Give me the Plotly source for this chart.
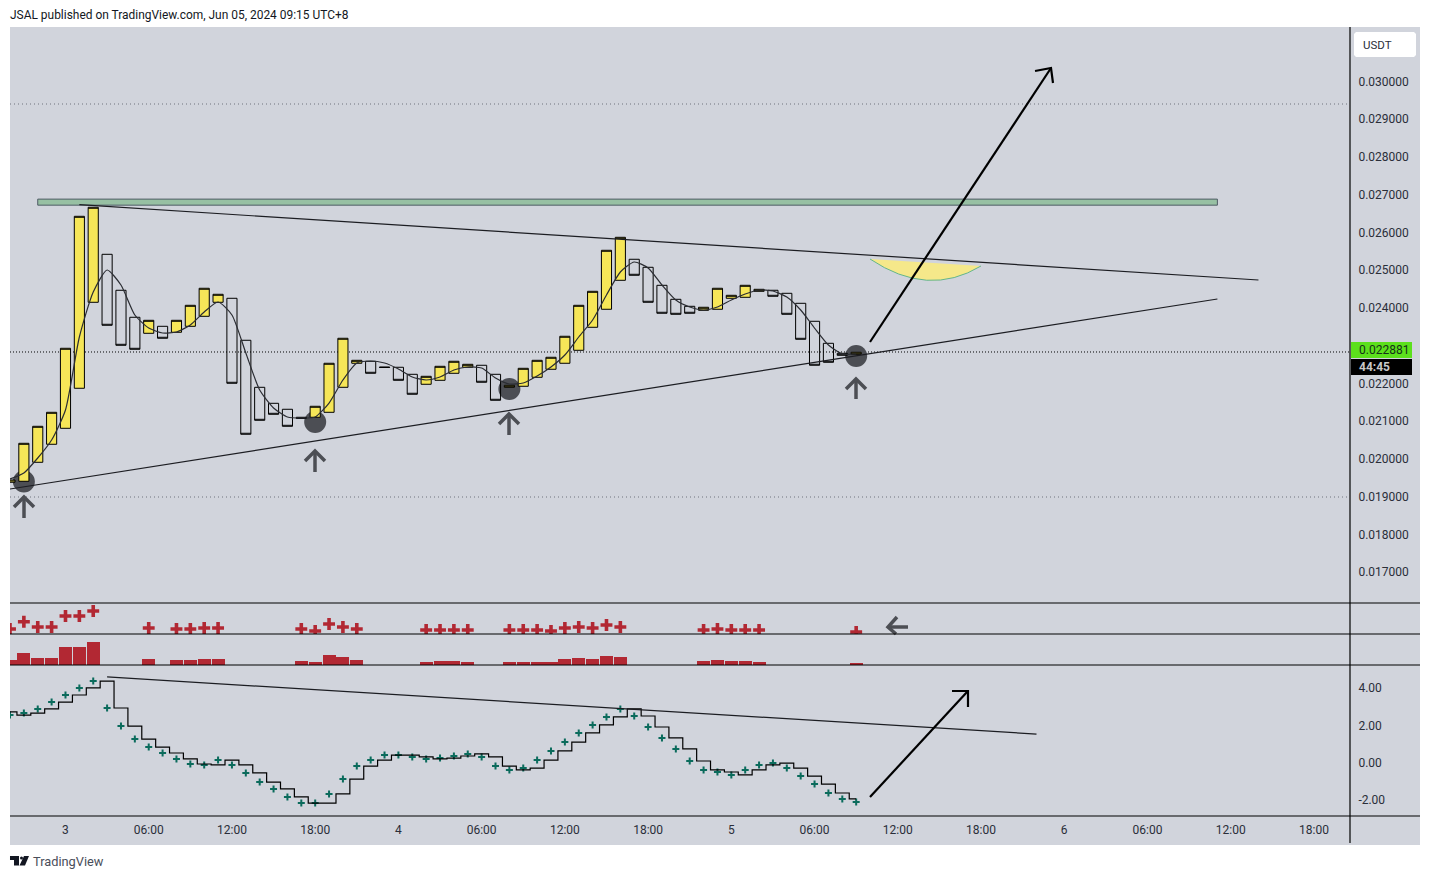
from datetime import datetime, timedelta
import plotly.graph_objects as go

W, H = 1430, 879
START = datetime(2024, 6, 3)

# ---- data ----
first_hour = -4  # hourly bars, hours relative to Jun 3 00:00
opens = [0.019382,0.019408,0.019911,0.020388,0.020811,0.021871,0.024148,0.025419,0.024466,0.023751,0.023327,0.023512,
         0.023354,0.023512,0.023777,0.024148,0.024254,0.023142,0.021897,0.021473,0.021315,0.021103,0.021103,0.021235,
         0.021897,0.022533,0.022586,0.022435,0.022427,0.022241,0.021977,0.022082,0.022268,0.022427,0.022480,0.022241,
         0.021897,0.021924,0.022162,0.022374,0.022533,0.022877,0.023486,0.023963,0.024730,0.025287,0.025075,0.024598,
         0.024227,0.024042,0.023936,0.023963,0.024254,0.024280,0.024439,0.024466,0.024386,0.024121,0.023645,0.023062,
         0.022797,0.022771]
closes = [0.019443,0.020414,0.020864,0.021235,0.022930,0.026425,0.026664,0.023539,0.023009,0.022903,0.023671,0.023195,
          0.023671,0.024068,0.024519,0.024360,0.022003,0.020653,0.021023,0.021182,0.020864,0.021076,0.021394,0.022533,
          0.023195,0.022612,0.022268,0.022422,0.022082,0.021712,0.022188,0.022453,0.022586,0.022506,0.022030,0.021553,
          0.021950,0.022400,0.022612,0.022692,0.023248,0.024068,0.024439,0.025525,0.025869,0.024863,0.024148,0.023857,
          0.023830,0.023857,0.024016,0.024519,0.024333,0.024598,0.024492,0.024307,0.023830,0.023168,0.022480,0.022559,
          0.022744,0.022824]
ma_values = [0.019469,0.019628,0.020025,0.020502,0.021296,0.023229,0.024421,0.025003,0.024606,0.023812,0.023467,0.023335,
             0.023361,0.023547,0.023891,0.024156,0.023812,0.022805,0.021826,0.021349,0.021111,0.021084,0.021111,0.021481,
             0.022090,0.022541,0.022594,0.022541,0.022382,0.022170,0.022090,0.022170,0.022355,0.022435,0.022408,0.022143,
             0.021984,0.022011,0.022196,0.022435,0.022752,0.023229,0.023679,0.024341,0.024950,0.025215,0.025056,0.024606,
             0.024209,0.024023,0.023944,0.024023,0.024209,0.024368,0.024474,0.024447,0.024288,0.023944,0.023467,0.023017,
             0.022779,0.022779]

signal_hours = [-4,-3,-2,-1,0,1,2,6,8,9,10,11,17,18,19,20,21,26,27,28,29,32,33,34,35,36,37,38,39,40,46,47,48,49,50,57]
signal_marks = [5,12.3,7,7,18,18,23,6,5,5,6,6,5,3,10,7,5,4,4,4,4,4,4,4,3,6,7,6,9,7,4,5,4,4,4,2]
signal_bars = [5.3,12.3,7.3,7.3,18.3,18.3,23.3,6.3,5.3,5.3,6.3,6.3,4.3,3.3,10.3,8.3,5.3,3.3,4.3,4.3,3.3,3.3,3.3,3.3,3.3,
               6.3,7.3,6.3,9.3,8.3,4.3,5.3,4.3,4.3,3.3,1.3]

osc_first_hour = -5
osc_values = [2.72,2.55,2.66,2.88,3.25,3.63,4.01,4.38,2.93,1.96,1.26,0.83,0.51,0.19,-0.08,-0.13,0.13,-0.13,-0.56,-1.05,
              -1.42,-1.85,-2.18,-2.18,-1.69,-0.89,-0.19,0.13,0.40,0.40,0.30,0.19,0.24,0.35,0.46,0.30,-0.19,-0.40,-0.30,
              0.13,0.62,1.10,1.59,2.02,2.45,2.88,2.50,1.91,1.32,0.73,0.08,-0.40,-0.51,-0.67,-0.40,-0.13,-0.03,-0.30,
              -0.73,-1.16,-1.64,-1.96,-2.12]

price_ticks = [0.030,0.029,0.028,0.027,0.026,0.025,0.024,0.022,0.021,0.020,0.019,0.018,0.017]
osc_ticks = [4,2,0,-2]
time_tick_hours = [0,6,12,18,24,30,36,42,48,54,60,66,72,78,84,90]
time_tick_labels = ["3","06:00","12:00","18:00","4","06:00","12:00","18:00","5","06:00","12:00","18:00","6","06:00","12:00","18:00"]

BG = "#d1d4dc"; YEL = "#f6e658"; RED = "#b22833"; GRN = "#0b6b5c"; DARK = "#4c4e54"; TXT = "#2a2e39"
FONT = "Roboto"

def T(h):
    return START + timedelta(hours=h)
def px(x):
    return x / W
def py(y):
    return 1 - y / H
def path(*pts, close=False):
    return "M" + " L".join(f"{px(a):.5f},{py(b):.5f}" for a, b in pts) + (" Z" if close else "")

bar_times = [T(first_hour + i) for i in range(len(opens))]
fig = go.Figure()

fig.add_trace(go.Candlestick(
    x=bar_times, open=opens, close=closes,
    high=[max(a, b) for a, b in zip(opens, closes)], low=[min(a, b) for a, b in zip(opens, closes)],
    increasing=dict(fillcolor=YEL, line=dict(color="#000000", width=1)),
    decreasing=dict(fillcolor="rgba(0,0,0,0)", line=dict(color="#000000", width=1)),
    whiskerwidth=0, xaxis="x", yaxis="y", showlegend=False, hoverinfo="skip"))
fig.add_trace(go.Scatter(x=bar_times, y=ma_values, mode="lines", xaxis="x", yaxis="y",
                         line=dict(color="#2b2d33", width=1.2, shape="spline", smoothing=0.6), showlegend=False, hoverinfo="skip"))
sig_times = [T(h) for h in signal_hours]
fig.add_trace(go.Scatter(x=sig_times, y=signal_marks, mode="markers", xaxis="x", yaxis="y2",
                         marker=dict(symbol="cross-thin", size=8.5, line=dict(color=RED, width=3.6)), showlegend=False, hoverinfo="skip"))
fig.add_trace(go.Bar(x=sig_times, y=signal_bars, width=3600000 * 0.94, marker=dict(color=RED, line=dict(width=0)),
                     xaxis="x", yaxis="y3", showlegend=False, hoverinfo="skip"))
osc_x = [T(osc_first_hour + i) for i in range(len(osc_values))]
fig.add_trace(go.Scatter(x=osc_x, y=osc_values, mode="markers", xaxis="x", yaxis="y4",
                         marker=dict(symbol="cross-thin", size=5, line=dict(color=GRN, width=2)), showlegend=False, hoverinfo="skip"))
# the stepped signal line lags the green marks by one bar and stops at the last bar
fig.add_trace(go.Scatter(x=osc_x[1:], y=osc_values[:-1], mode="lines",
                         xaxis="x", yaxis="y4", line=dict(color="#000000", width=1.2, shape="hvh"), showlegend=False, hoverinfo="skip"))

shapes = []
# circles under the candles
for h, p in [(-3, 0.01940), (18, 0.02098), (32, 0.02185), (57, 0.022726)]:
    shapes.append(dict(type="circle", xref="x", yref="y", xsizemode="pixel", ysizemode="pixel", xanchor=T(h), yanchor=p,
                       x0=-11, x1=11, y0=-11, y1=11, fillcolor=DARK, line=dict(width=0), layer="below"))
# dotted level lines
for p, c, d in [(0.029399, "#6f727c", "1px,3px"), (0.018992, "#6f727c", "1px,3px"), (0.022832, "#000000", "1px,2px")]:
    shapes.append(dict(type="line", xref="paper", yref="y", x0=px(10), x1=px(1350), y0=p, y1=p, line=dict(color=c, width=1, dash=d), layer="below"))
# green zone
shapes.append(dict(type="rect", xref="x", yref="y", x0=T(-2), x1=T(83.04), y0=0.02672, y1=0.02688,
                   fillcolor="#97c0a3", line=dict(color="#4f5b66", width=1)))
# trend lines
for a, b, c, d, ya in [(1, 0.026732, 86, 0.024738, "y"), (-4, 0.019204, 83.04, 0.024235, "y"), (3, 4.6, 70, 1.53, "y4")]:
    shapes.append(dict(type="line", xref="x", yref=ya, x0=T(a), x1=T(c), y0=b, y1=d, line=dict(color="#1c1d22", width=1.2)))
# yellow arc
arc = f"M{px(870):.5f},{py(259):.5f} Q{px(928):.5f},{py(298):.5f} {px(981):.5f},{py(266):.5f}"
shapes.append(dict(type="path", xref="paper", yref="paper", path=arc + " Z", fillcolor="#f5e88a", line=dict(width=0)))
shapes.append(dict(type="path", xref="paper", yref="paper", path=arc, line=dict(color="#62b58c", width=1)))
# black arrows
for pts in [[(870, 342), (1051, 68)], [(1035, 71), (1051, 68), (1053, 83)], [(870, 797), (967, 692)], [(952, 691), (968, 691), (968, 707)]]:
    shapes.append(dict(type="path", xref="paper", yref="paper", path=path(*pts), line=dict(color="#000000", width=2.2)))
# dark guide arrows
for x, tip, tail in [(24, 497, 518), (315, 451, 472), (509, 414, 435), (856, 379, 399)]:
    shapes.append(dict(type="path", xref="paper", yref="paper", path=path((x, tail), (x, tip)), line=dict(color=DARK, width=3.5)))
    shapes.append(dict(type="path", xref="paper", yref="paper", path=path((x - 10, tip + 10), (x, tip), (x + 10, tip + 10)), line=dict(color=DARK, width=3.5)))
shapes.append(dict(type="path", xref="paper", yref="paper", path=path((908, 627), (888, 627)), line=dict(color=DARK, width=3.5)))
shapes.append(dict(type="path", xref="paper", yref="paper", path=path((897, 617), (888, 627), (896, 634)), line=dict(color=DARK, width=3.5)))
# pane frame
for y in [603, 634, 665, 816]:
    shapes.append(dict(type="line", xref="paper", yref="paper", x0=px(10), x1=px(1420), y0=py(y), y1=py(y), line=dict(color="#000000", width=1.2)))
shapes.append(dict(type="line", xref="paper", yref="paper", x0=px(1350), x1=px(1350), y0=py(27), y1=py(843), line=dict(color="#000000", width=1.2)))
# chart background
shapes.insert(0, dict(type="rect", xref="paper", yref="paper", x0=px(10), x1=px(1420), y0=py(845), y1=py(27), fillcolor=BG, line=dict(width=0), layer="below"))
# USDT button, price and countdown tags
shapes.append(dict(type="path", xref="paper", yref="paper", fillcolor="#ffffff", line=dict(width=0),
                   path=path((1356, 32), (1414, 32), (1416, 34), (1416, 55), (1414, 57), (1356, 57), (1354, 55), (1354, 34), close=True)))
shapes.append(dict(type="rect", xref="paper", yref="paper", x0=px(1351), x1=px(1412), y0=py(358), y1=py(342), fillcolor="#5ce01c", line=dict(width=0)))
shapes.append(dict(type="rect", xref="paper", yref="paper", x0=px(1351), x1=px(1412), y0=py(375), y1=py(359), fillcolor="#000000", line=dict(width=0)))
# logo
shapes.append(dict(type="path", xref="paper", yref="paper", fillcolor="#131722", line=dict(width=0),
                   path=path((10, 856), (19, 856), (19, 865.5), (14, 865.5), (14, 860), (10, 860), close=True)))
shapes.append(dict(type="path", xref="paper", yref="paper", fillcolor="#131722", line=dict(width=0),
                   path=path((24, 856), (29, 856), (25, 865.5), (19.5, 865.5), close=True)))
shapes.append(dict(type="circle", xref="paper", yref="paper", x0=px(20), x1=px(23), y0=py(859.5), y1=py(856.5), fillcolor="#131722", line=dict(width=0)))

def note(x, y, text, size=12, color=TXT, weight=None, family=FONT):
    return dict(xref="paper", yref="paper", x=px(x), y=py(y), text=text, showarrow=False, xanchor="left", yanchor="middle",
                font=dict(family=family, size=size, color=color, weight=weight))

annotations = [
    note(8, 15, "JSAL published on TradingView.com, Jun 05, 2024 09:15 UTC+8", 11.95, "#131722"),
    note(31, 861.5, "TradingView", 12.8, "#4a4e5a"),
    note(1361, 44.5, "USDT", 11.5, "#2a2e39"),
    note(1356.5, 350, "0.022881", 12, "#14301a"),
    note(1356.5, 367, "44:45", 12, "#c8c8c8", 700),
]

tickf = dict(family=FONT, size=12, color=TXT)
layout = dict(
    width=W, height=H, autosize=False, margin=dict(l=0, r=0, t=0, b=0),
    paper_bgcolor="#ffffff", plot_bgcolor="rgba(0,0,0,0)", showlegend=False, boxgap=0.27, boxgroupgap=0, bargap=0,
    shapes=shapes, annotations=annotations, font=dict(family=FONT),
    xaxis=dict(domain=[px(10), px(1350)], type="date", range=[T(-4), T(92.6)], anchor="y4", rangeslider=dict(visible=False),
               tickmode="array", tickvals=[T(h) for h in time_tick_hours], ticktext=time_tick_labels, tickangle=0,
               ticks="outside", ticklen=3, tickcolor="rgba(0,0,0,0)", tickfont=tickf, showgrid=False, zeroline=False, showline=False),
    yaxis=dict(domain=[py(603), py(27)], range=[0.016185, 0.031438], anchor="x", side="right", tickmode="array",
               tickvals=price_ticks, ticktext=[f"{v:.6f}" for v in price_ticks], ticks="outside", ticklen=5, tickcolor="rgba(0,0,0,0)",
               tickfont=tickf, showgrid=False, zeroline=False, showline=False),
    yaxis2=dict(domain=[py(634), py(603)], range=[0, 31], anchor="x", side="right", showticklabels=False, ticks="", showgrid=False, zeroline=False),
    yaxis3=dict(domain=[py(665), py(634)], range=[0, 31], anchor="x", side="right", showticklabels=False, ticks="", showgrid=False, zeroline=False),
    yaxis4=dict(domain=[py(816), py(665)], range=[-2.876, 5.242], anchor="x", side="right", tickmode="array",
                tickvals=osc_ticks, ticktext=[f"{v:.2f}" for v in osc_ticks], ticks="outside", ticklen=5, tickcolor="rgba(0,0,0,0)",
                tickfont=tickf, showgrid=False, zeroline=False, showline=False),
)
fig.update_layout(**layout)
fig.write_html("out.html", config=dict(displayModeBar=False),
               post_script="document.body.style.margin='0';document.body.style.background='#ffffff';")
